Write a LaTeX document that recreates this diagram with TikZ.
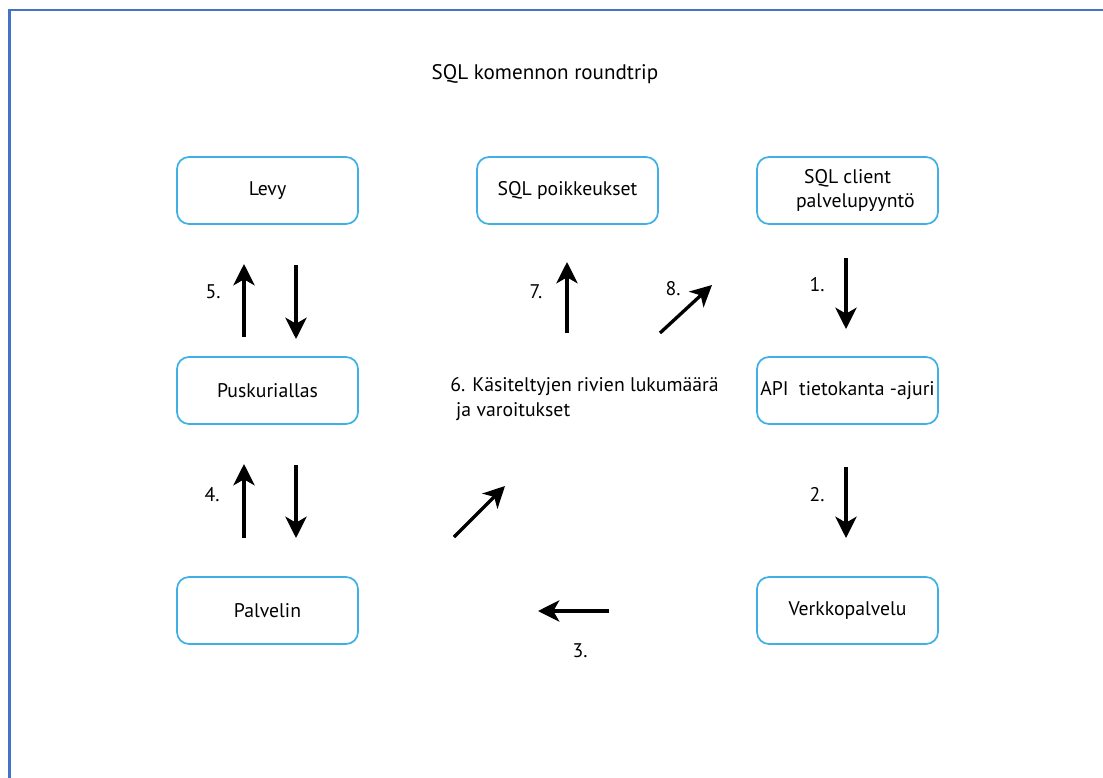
\documentclass[tikz,border=0pt]{standalone}
\usepackage{fontspec}
\setmainfont{PT Sans}
\usetikzlibrary{arrows.meta}
\definecolor{framecol}{HTML}{4472C4}
\definecolor{boxcol}{HTML}{3FB0E6}
\tikzset{
  stage/.style={draw=boxcol, line width=1.3pt, rounded corners=9pt, fill=white,
    minimum width=135.75pt, minimum height=50.25pt, inner sep=2pt, align=center,
    font=\fontsize{14.8pt}{18pt}\selectfont},
  flow/.style={line width=2.5pt, -{Stealth[length=16pt,width=16pt,inset=4.5pt]}},
  num/.style={font=\fontsize{14.8pt}{18.75pt}\selectfont, inner sep=0pt}
}
\begin{document}
\begin{tikzpicture}[x=0.75pt,y=-0.75pt]
  \useasboundingbox (0,0) rectangle (1103,778);
  % outer frame (left and top edges)
  \draw[framecol, line width=1.6pt] (9.5,778) -- (9.5,10) -- (1103,10);

  \node[font=\fontsize{15.8pt}{19pt}\selectfont] (title) at (545,74) {SQL komennon roundtrip};

  % stages
  \node[stage] (levy) at (267.5,190.5) {Levy};
  \node[stage] (poik) at (567.5,190.5) {SQL poikkeukset};
  \node[stage] (client) at (847.5,190.5) {SQL client\\\hspace*{0.8em}palvelupyyntö};
  \node[stage] (pusk) at (267.5,390.5) {Puskuriallas};
  \node[stage] (api) at (847.5,390.5) {API\ \ tietokanta -ajuri};
  \node[stage] (palv) at (267.5,610.5) {Palvelin};
  \node[stage] (verk) at (847.5,610.5) {Verkkopalvelu};

  % arrow end points
  \coordinate (a5s) at (244,337); \coordinate (a5e) at (244,264);
  \coordinate (d5s) at (296,265); \coordinate (d5e) at (296,339);
  \coordinate (a4s) at (244,538); \coordinate (a4e) at (244,464);
  \coordinate (d4s) at (296,465); \coordinate (d4e) at (296,538);
  \coordinate (a7s) at (567,333); \coordinate (a7e) at (567,262);
  \coordinate (a8s) at (660,333); \coordinate (a8e) at (712,285);
  \coordinate (a1s) at (846,258); \coordinate (a1e) at (846,329);
  \coordinate (a2s) at (846,467); \coordinate (a2e) at (846,538);
  \coordinate (a3s) at (609,611); \coordinate (a3e) at (538,611);
  \coordinate (a6s) at (454,537); \coordinate (a6e) at (505,486);

  \draw[flow] (a5s) -- (a5e);
  \draw[flow] (d5s) -- (d5e);
  \draw[flow] (a4s) -- (a4e);
  \draw[flow] (d4s) -- (d4e);
  \draw[flow] (a7s) -- (a7e);
  \draw[flow] (a8s) -- (a8e);
  \draw[flow] (a1s) -- (a1e);
  \draw[flow] (a2s) -- (a2e);
  \draw[flow] (a3s) -- (a3e);
  \draw[flow] (a6s) -- (a6e);

  % step numbers
  \node[num] (n5) at (213,292) {5.};
  \node[num] (n4) at (212,495) {4.};
  \node[num] (n7) at (536,292) {7.};
  \node[num] (n8) at (673,289) {8.};
  \node[num] (n1) at (817,285) {1.};
  \node[num] (n2) at (817,495) {2.};
  \node[num] (n3) at (580,651) {3.};
  \node[num, anchor=west, align=left] (n6) at (450,399)
    {6. Käsiteltyjen rivien lukumäärä\\\hspace*{0.3em}ja varoitukset};
\end{tikzpicture}
\end{document}
